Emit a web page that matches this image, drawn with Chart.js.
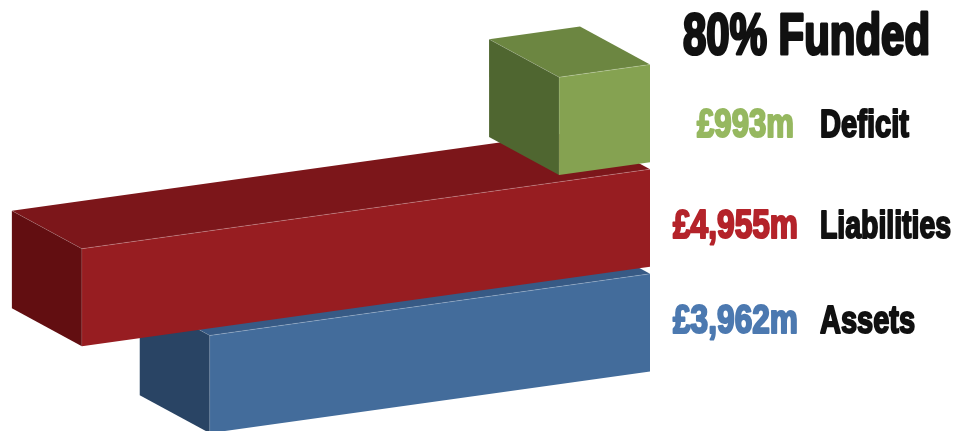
<!DOCTYPE html>
<html>
<head>
<meta charset="utf-8">
<title>80% Funded</title>
<script src="https://cdn.jsdelivr.net/npm/chart.js@4/dist/chart.umd.js"></script>
<style>
  html, body { margin: 0; background: #fff; overflow: hidden; }
  canvas { display: block; }
</style>
</head>
<body>
<canvas id="fundingChart" width="955" height="431"></canvas>
<script>
// drawn back to front: assets, liabilities, then the deficit block on top
const categories = ['Assets', 'Liabilities', 'Deficit'];
const amounts = [3962, 4955, 993];
const frontColors = ['#436c9b', '#971d21', '#85a251'];
const topColors = ['#375a85', '#7c161a', '#6c8641'];
const sideColors = ['#294464', '#620e11', '#4f6630'];
const textColors = ['#4c79b0', '#b4232a', '#96b860'];
const headline = '80% Funded';

const SLOPE = 0.14;      // rise of the front faces, px per px
const DEPTH_X = 70;      // how far the boxes run back
const DEPTH_Y = 38;

// value axis that foreshortens towards the far end of the boxes
class ForeshortenedScale extends Chart.LinearScale {
  static id = 'foreshortened';
  static defaults = Chart.LinearScale.defaults;
  getPixelForValue(value) {
    if (value === null || value === undefined) return NaN;
    const t = (value - this.min) / (this.max - this.min);
    return this.getPixelForDecimal(Math.pow(t, 1.14));
  }
}
Chart.register(ForeshortenedScale);

function fillPoly(ctx, pts, color) {
  ctx.beginPath();
  pts.forEach((p, i) => i ? ctx.lineTo(p[0], p[1]) : ctx.moveTo(p[0], p[1]));
  ctx.closePath();
  ctx.fillStyle = color;
  ctx.fill();
}

function edge(ctx, a, b, alpha) {
  ctx.beginPath();
  ctx.moveTo(a[0], a[1]);
  ctx.lineTo(b[0], b[1]);
  ctx.strokeStyle = 'rgba(255,255,255,' + alpha + ')';
  ctx.lineWidth = 0.7;
  ctx.stroke();
}

function boxCorners(chart, bar) {
  const right = chart.chartArea.right;
  const rise = x => (right - x) * SLOPE;
  const { x, y, height } = bar.getProps(['x', 'y', 'height'], true);
  const tl = [x, y - height / 2 + rise(x)];
  const bl = [x, y + height / 2 + rise(x)];
  const tr = [right, y - height / 2];
  return { tl, bl, tr };
}

// side and top faces go under the bars, the bars themselves get sheared
const boxFaces = {
  id: 'boxFaces',
  beforeDatasetsDraw(chart) {
    const ctx = chart.ctx;
    const back = p => [p[0] - DEPTH_X, p[1] - DEPTH_Y];
    chart.getDatasetMeta(0).data.forEach((bar, i) => {
      const { tl, bl, tr } = boxCorners(chart, bar);
      fillPoly(ctx, [tl, tr, back(tr), back(tl)], topColors[i]);
      fillPoly(ctx, [tl, bl, back(bl), back(tl)], sideColors[i]);
      edge(ctx, tl, back(tl), 0.2);
    });
    const right = chart.chartArea.right;
    ctx.save();
    ctx.transform(1, -SLOPE, 0, 1, 0, SLOPE * right);
  },
  afterDatasetsDraw(chart) {
    const ctx = chart.ctx;
    ctx.restore();
    chart.getDatasetMeta(0).data.forEach(bar => {
      const { tl, bl, tr } = boxCorners(chart, bar);
      edge(ctx, tl, tr, 0.3);
      edge(ctx, tl, bl, 0.15);
    });
  }
};

// condensed heavy text: narrow bold, squeezed to width and thickened with a stroke
function heavyText(ctx, text, x, baseline, size, width, color, align) {
  ctx.save();
  ctx.font = 'bold ' + size + 'px "Liberation Sans Narrow", "Liberation Sans", sans-serif';
  const natural = ctx.measureText(text).width;
  const sx = width / natural;
  ctx.translate(x, baseline);
  ctx.scale(sx, 1);
  ctx.textAlign = align;
  ctx.textBaseline = 'alphabetic';
  ctx.fillStyle = color;
  ctx.strokeStyle = color;
  ctx.lineWidth = size * 0.055;
  ctx.lineJoin = 'round';
  ctx.strokeText(text, 0, 0);
  ctx.fillText(text, 0, 0);
  ctx.restore();
}

const money = v => '£' + v.toLocaleString('en-GB') + 'm';

const sideText = {
  id: 'sideText',
  afterDraw(chart) {
    const ctx = chart.ctx;
    heavyText(ctx, headline, 683, 54, 58, 247, '#111', 'left');
    const baselines = [333, 238, 137];
    const labelWidths = [95, 131, 89];
    const valueWidths = [125, 125, 97];
    const valueRights = [798, 798, 794];
    categories.forEach((name, i) => {
      heavyText(ctx, money(amounts[i]), valueRights[i], baselines[i], 40, valueWidths[i], textColors[i], 'right');
      heavyText(ctx, name, 820, baselines[i], 38, labelWidths[i], '#111', 'left');
    });
  }
};

new Chart(document.getElementById('fundingChart'), {
  type: 'bar',
  data: {
    labels: categories,
    datasets: [{
      data: amounts,
      backgroundColor: frontColors,
      barPercentage: 0.933,
      categoryPercentage: 1,
      clip: false
    }]
  },
  plugins: [boxFaces, sideText],
  options: {
    indexAxis: 'y',
    responsive: false,
    animation: false,
    layout: { padding: { top: 61, bottom: 56, left: 76, right: 305 } },
    plugins: { legend: { display: false }, tooltip: { enabled: false } },
    scales: {
      x: { type: 'foreshortened', display: false, reverse: true, min: 0, max: 5000 },
      y: { display: false, reverse: true }
    }
  }
});
</script>
</body>
</html>
